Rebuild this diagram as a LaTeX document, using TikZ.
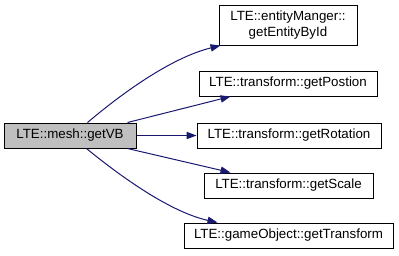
\documentclass[tikz,border=0pt]{standalone}
\usepackage{fontspec}
\setmainfont{Liberation Sans}
\usepackage{tikz}
\usetikzlibrary{calc,arrows.meta}

\definecolor{edgeblue}{HTML}{191970}
\definecolor{focusgray}{HTML}{BFBFBF}

\begin{document}
\begin{tikzpicture}[x=0.75pt,y=-0.75pt,
    fn/.style={draw,line width=0.75pt,inner sep=2pt,minimum height=18.75pt,align=center,font=\fontsize{10}{11.5}\selectfont},
    edge/.style={draw=edgeblue,line width=0.75pt,-{Triangle[length=7.5pt,width=5.5pt]},edgeblue}]
          \useasboundingbox (0,0) rectangle (399,255);
          \node[fn,fill=focusgray,minimum width=99pt] (vb) at (70,135.5) {LTE::mesh::getVB};
          \node[fn,minimum width=103.5pt,minimum height=30pt] (em) at (288,25) {LTE::entityManger::\\getEntityById};
          \node[fn,minimum width=133.5pt] (pos) at (288,83.5) {LTE::transform::getPostion};
          \node[fn,minimum width=138pt] (rot) at (289,135.5) {LTE::transform::getRotation};
          \node[fn,minimum width=126.75pt] (scl) at (288.5,185.5) {LTE::transform::getScale};
          \node[fn,minimum width=156.75pt] (go) at (288.5,235.5) {LTE::gameObject::getTransform};
          \draw[edge] ($(vb.north west)+(84,0)$) .. controls (120,95) and (170,58) .. ($(em.south west)+(2,0)$);
          \draw[edge] ($(vb.north east)+(-9,0)$) -- ($(pos.south west)+(32,0)$);
          \draw[edge] (vb.east) -- (rot.west);
          \draw[edge] ($(vb.south east)+(-9,0)$) -- ($(scl.north west)+(27,0)$);
          \draw[edge] ($(vb.south west)+(83,0)$) .. controls (120,176) and (170,212) .. ($(go.north west)+(34,0)$);
        \end{tikzpicture}
\end{document}
